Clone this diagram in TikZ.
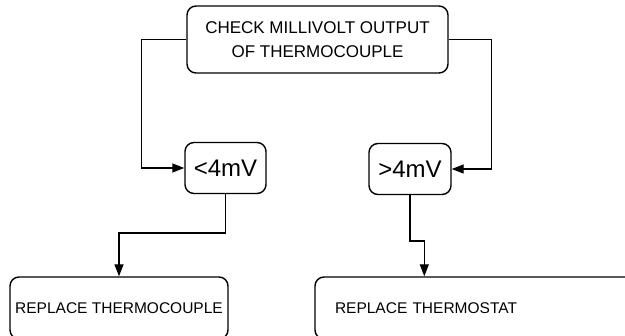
\documentclass[tikz,border=0pt]{standalone}
\usepackage{fontspec}
\setmainfont{Liberation Sans}
\usetikzlibrary{arrows.meta}
\begin{document}
\begin{tikzpicture}[x=1pt, y=-1pt,
    box/.style={draw, rounded corners=9pt, line width=1.4pt, inner sep=0pt, align=center},
    arr/.style={line width=1.4pt, -{Triangle[length=12pt, width=9pt]}}]
  \useasboundingbox (0,0) rectangle (625,336);
  \node[box, minimum width=261pt, minimum height=67pt, font=\fontsize{17}{23.7}\selectfont] (check) at (317.5,39.5) {CHECK MILLIVOLT OUTPUT\\OF THERMOCOUPLE};
  \node[box, minimum width=81pt, minimum height=51pt, font=\fontsize{24}{28}\selectfont] (low) at (225.5,168) {<4mV};
  \node[box, minimum width=82pt, minimum height=51pt, font=\fontsize{24}{28}\selectfont] (high) at (410,169) {>4mV};
  \node[box, minimum width=218pt, minimum height=62pt, font=\fontsize{15.5}{18}\selectfont] (newtc) at (119,308) {REPLACE THERMOCOUPLE};
  \node[box, align=left, inner xsep=20pt, text width=420pt, minimum height=62pt, font=\fontsize{15.5}{18}\selectfont] (newts) at (545,308) {REPLACE THERMOSTAT};
  \draw[arr] (check.west) -- ++(-45,0) |- (low.west);
  \draw[arr] (check.east) -- ++(43,0) |- (high.east);
  \draw[arr] (low.south) -- ++(0,39) -| (newtc.north);
  \draw[arr] (high.south) -- ++(0,46) -| ([xshift=110pt]newts.north west);
\end{tikzpicture}
\end{document}
